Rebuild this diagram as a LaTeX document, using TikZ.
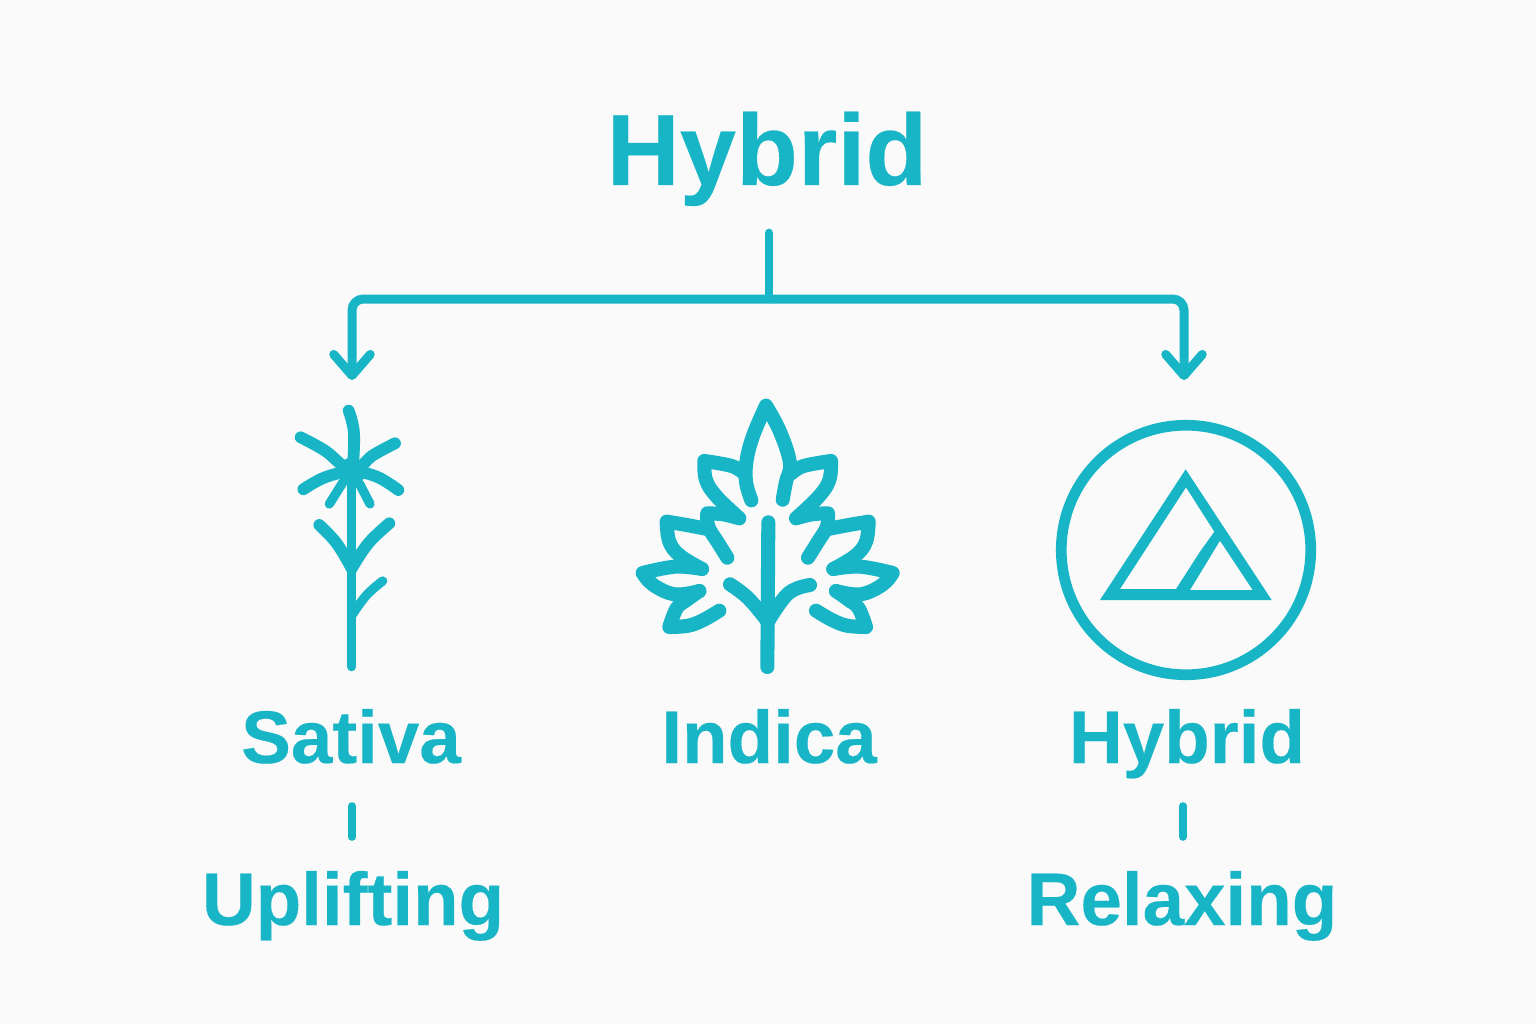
\documentclass[tikz,border=0pt]{standalone}
\usepackage{fontspec}
\setmainfont{Liberation Sans}[BoldFeatures={FakeBold=0.25}]
\usetikzlibrary{arrows.meta}
\definecolor{teal}{HTML}{17B5C5}
\definecolor{paper}{HTML}{FAFAFA}
\tikzset{
    title/.style={anchor=base, inner sep=0pt, text=teal, font=\fontsize{72}{80}\selectfont\bfseries},
    label/.style={anchor=base, inner sep=0pt, text=teal, font=\fontsize{53}{60}\selectfont\bfseries},
    curve/.style={smooth, tension=0.65},
    branch/.style={draw=teal, line width=6.4pt, rounded corners=8pt, {Straight Barb[length=15pt, width=26pt, round]}-{Straight Barb[length=15pt, width=26pt, round]}},
    trunk/.style={draw=teal, line width=6.2pt, line cap=round},
    tick/.style={draw=teal, line width=5.4pt, line cap=round},
    stem/.style={draw=teal, line width=6.6pt, line cap=round, line join=round},
    petal/.style={stem, line width=8.4pt},
    leafline/.style={draw=teal, line width=10pt, line cap=round, line join=round},
    ring/.style={circle, draw=teal, line width=7.6pt, minimum size=177.4pt, inner sep=0pt}
}
\newcommand{\leafhalf}{%
    % side leaflets, upper to lower
    \draw[leafline] plot[curve] coordinates {(372,265) (335,243) (253,228)}
        plot[curve] coordinates {(253,228) (258,285) (290,335) (355,397)};
    \draw[leafline] plot[curve] coordinates {(358,400) (310,388) (262,385)}
        plot[curve] coordinates {(262,385) (265,425) (292,470) (322,518)};
    \draw[leafline] plot[curve] coordinates {(262,432) (200,420) (140,410)}
        plot[curve] coordinates {(140,410) (148,470) (180,512) (246,552)};
    \draw[leafline] plot[curve] coordinates {(246,552) (165,545) (68,564)}
        plot[curve] coordinates {(68,564) (100,600) (165,628) (238,618)};
    \draw[leafline] plot[curve] coordinates {(238,618) (200,645) (170,670) (148,726)}
        plot[curve] coordinates {(148,726) (205,722) (250,705) (298,677)};
}
\begin{document}
\begin{tikzpicture}[x=0.025cm, y=-0.025cm]
\fill[paper] (0,0) rectangle (1536,1024);
\useasboundingbox (0,0) rectangle (1536,1024);

% Heading
\node[title] (top) at (767,185) {Hybrid};

% Labels
\node[label] (sativa) at (351,763) {Sativa};
\node[label] (indica) at (769,763) {Indica};
\node[label] (hybrid) at (1187,763) {Hybrid};
\node[label] (uplift) at (353,925) {Uplifting};
\node[label] (relax) at (1182,925) {Relaxing};

% Connector ends
\coordinate (trunktop) at (769,233);
\coordinate (trunkfoot) at (769,299);
\coordinate (endleft) at (352,380);
\coordinate (endright) at (1184,380);
\coordinate (tickA) at (352,806);
\coordinate (tickB) at (352,837);
\coordinate (tickC) at (1183,806);
\coordinate (tickD) at (1183,837);

% Tree connectors
\draw[trunk] (trunktop) -- (trunkfoot);
\draw[branch] (endleft) |- (trunkfoot) -| (endright);
\draw[tick] (tickA) -- (tickB);
\draw[tick] (tickC) -- (tickD);

% Sativa sprig
\begin{scope}[shift={(270,390)}, x=0.008333cm, y=-0.008333cm]
\draw[stem] (245,240) -- (245,830);
\fill[teal] (245,245) circle (42);
\draw[petal] plot[curve] coordinates {(236,62) (252,130) (248,240)};
\draw[petal] plot[curve] coordinates {(92,142) (165,182) (245,240) (310,195) (375,160)};
\draw[petal] plot[curve] coordinates {(100,298) (165,262) (245,245) (320,260) (385,300)};
\draw[stem] (178,342) -- (218,278);
\draw[stem] (300,342) -- (268,280);
\draw[petal] plot[curve] coordinates {(148,405) (200,460) (245,535)};
\draw[petal] plot[curve] coordinates {(358,400) (295,460) (245,535)};
\draw[stem] plot[curve] coordinates {(338,573) (290,615) (248,672)};
\end{scope}

% Indica leaf
\begin{scope}[shift={(620,385)}, x=0.008333cm, y=-0.008333cm]
\draw[leafline] plot[curve] coordinates {(394,346) (378,290) (380,225) (400,150) (438,62)}
    plot[curve] coordinates {(438,62) (480,140) (510,235) (498,290) (488,344)};
\leafhalf
\begin{scope}[shift={(886,0)}, xscale=-1]
\leafhalf
\end{scope}
\draw[leafline] (445,412) -- (442,846);
\draw[leafline] plot[curve] coordinates {(330,598) (385,640) (442,708)};
\draw[leafline] plot[curve] coordinates {(570,600) (505,625) (445,708)};
\end{scope}

% Hybrid badge
\node[ring] (badge) at (1186,550) {};
\begin{scope}[shift={(1040,410)}, x=0.008333cm, y=-0.008333cm]
\fill[teal, even odd rule] (180,570) -- (437,178) -- (695,570) -- cycle
    (240,537) -- (438,232) -- (523,365) -- (480,425) -- (408,537) -- cycle
    (450,540) -- (540,392) -- (638,540) -- cycle;
\end{scope}
\end{tikzpicture}
\end{document}
